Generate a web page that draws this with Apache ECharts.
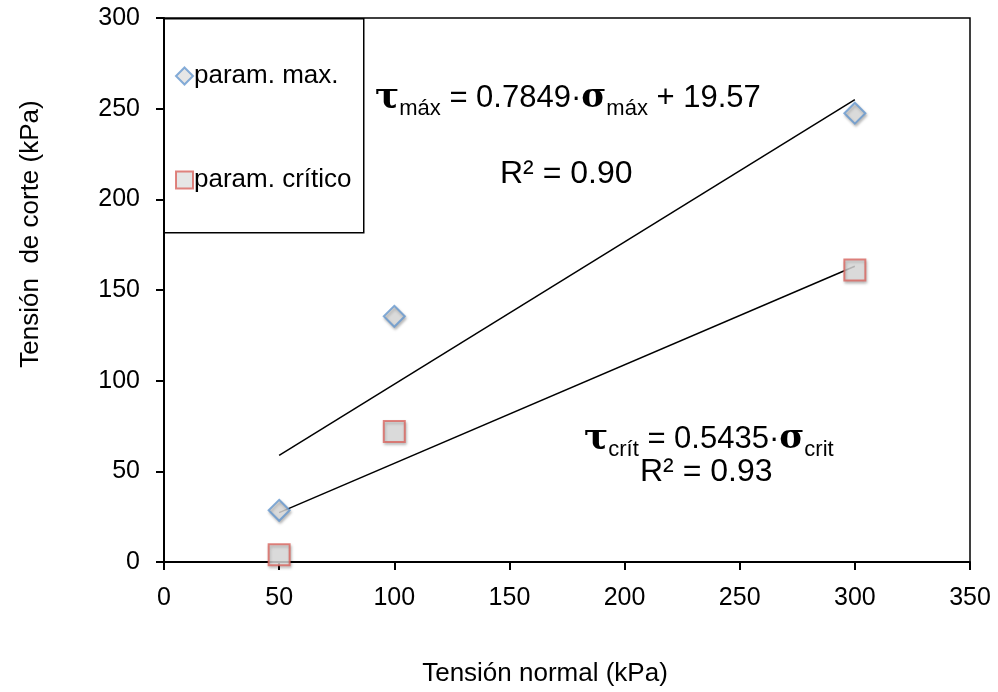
<!DOCTYPE html>
<html>
<head>
<meta charset="utf-8">
<script src="https://cdn.jsdelivr.net/npm/echarts@6/dist/echarts.min.js"></script>
<style>html,body{margin:0;padding:0;background:#fff}#c{width:998px;height:692px}</style>
</head>
<body>
<div id="c"></div>
<script>
// Data
var sigmaN = [50, 100, 300];
var tauMax = [28.5, 135.5, 247.5];
var tauCrit = [4, 72, 161];
var trendMaxX = [50, 300];
var trendMaxY = [58.8, 255.0];
var trendCritX = [50, 300];
var trendCritY = [27.2, 163.1];
var xTicks = [0, 50, 100, 150, 200, 250, 300, 350];
var yTicks = [0, 50, 100, 150, 200, 250, 300];

function zip(a, b) { return a.map(function (v, i) { return [v, b[i]]; }); }

var FONT = '"Liberation Sans", Arial, sans-serif';
var chart = echarts.init(document.getElementById('c'), null, {renderer: 'canvas'});

var eqRich = {
  tau: {fontFamily: '"DejaVu Serif", "Liberation Serif", serif', fontSize: 36, fontWeight: 'bold', color: '#000', verticalAlign: 'middle', lineHeight: 44},
  sig: {fontFamily: '"DejaVu Serif", "Liberation Serif", serif', fontSize: 34, fontWeight: 'bold', color: '#000', verticalAlign: 'middle', lineHeight: 44},
  t: {fontFamily: FONT, fontSize: 31, color: '#000', verticalAlign: 'middle', lineHeight: 44},
  sub: {fontFamily: FONT, fontSize: 22, color: '#000', verticalAlign: 'bottom', lineHeight: 44}
};

chart.setOption({
  animation: false,
  grid: {left: 164, right: 28, top: 18, bottom: 128, show: true, borderColor: '#000', borderWidth: 1.5, backgroundColor: 'transparent'},
  xAxis: {
    type: 'value', min: 0, max: 350, interval: 50,
    name: 'Tensión normal (kPa)', nameLocation: 'middle', nameGap: 99,
    nameTextStyle: {fontFamily: FONT, fontSize: 26, color: '#000', padding: [0, 44, 0, 0]},
    axisLine: {show: true, onZero: false, lineStyle: {color: '#000', width: 2}},
    axisTick: {show: true, inside: false, length: 8, lineStyle: {color: '#000', width: 2}},
    axisLabel: {fontFamily: FONT, fontSize: 25, color: '#000', margin: 24,
      formatter: function (v) { return xTicks.indexOf(v) >= 0 ? String(v) : ''; }},
    splitLine: {show: false}
  },
  yAxis: {
    type: 'value', min: 0, max: 300, interval: 50,
    name: 'Tensión  de corte (kPa)', nameLocation: 'middle', nameGap: 120, nameRotate: 90,
    nameTextStyle: {fontFamily: FONT, fontSize: 26, color: '#000', padding: [0, 0, 0, 112]},
    axisLine: {show: true, onZero: false, lineStyle: {color: '#000', width: 2}},
    axisTick: {show: true, inside: false, length: 8, lineStyle: {color: '#000', width: 2}},
    axisLabel: {fontFamily: FONT, fontSize: 25, color: '#000', margin: 24,
      formatter: function (v) { return yTicks.indexOf(v) >= 0 ? String(v) : ''; }},
    splitLine: {show: false}
  },
  legend: {
    orient: 'vertical', left: 170, top: 58, itemGap: 78, itemWidth: 17, itemHeight: 17,
    data: ['param. max.', 'param. crítico'],
    textStyle: {fontFamily: FONT, fontSize: 26, color: '#000', padding: [0, 0, 0, -4]}
  },
  graphic: [
    {type: 'rect', left: 163, top: 18, z: 1, shape: {width: 200, height: 214},
     style: {fill: 'transparent', stroke: '#000', lineWidth: 1.5}},
    {type: 'text', left: 375, top: 80, z: 10, style: {
      text: '{tau|τ}{sub|máx}{t| = 0.7849·}{sig|σ}{sub|máx}{t| + 19.57}', rich: eqRich}},
    {type: 'text', left: 500, top: 158, z: 10, style: {
      text: 'R² = 0.90', fontFamily: FONT, fontSize: 32, fill: '#000'}},
    {type: 'text', left: 584, top: 421, z: 10, style: {
      text: '{tau|τ}{sub|crít}{t| = 0.5435·}{sig|σ}{sub|crit}', rich: eqRich}},
    {type: 'text', left: 640, top: 456, z: 10, style: {
      text: 'R² = 0.93', fontFamily: FONT, fontSize: 32, fill: '#000'}}
  ],
  series: [
    {name: 'trend max', type: 'line', data: zip(trendMaxX, trendMaxY), symbol: 'none',
     lineStyle: {color: '#000', width: 1.5}, z: 3, silent: true},
    {name: 'trend crit', type: 'line', data: zip(trendCritX, trendCritY), symbol: 'none',
     lineStyle: {color: '#000', width: 1.5}, z: 3, silent: true},
    {name: 'param. max.', type: 'scatter', data: zip(sigmaN, tauMax), symbol: 'diamond', symbolSize: [21, 21],
     itemStyle: {color: '#e0e0e0', borderColor: '#6699d0', borderWidth: 2,
       shadowColor: 'rgba(0,0,0,0.3)', shadowBlur: 3, shadowOffsetX: 1, shadowOffsetY: 2}, z: 4},
    {name: 'param. crítico', type: 'scatter', data: zip(sigmaN, tauCrit), symbol: 'rect', symbolSize: [21, 21],
     itemStyle: {color: '#e0e0e0', borderColor: '#d9655f', borderWidth: 2,
       shadowColor: 'rgba(0,0,0,0.3)', shadowBlur: 3, shadowOffsetX: 1, shadowOffsetY: 2}, z: 4}
  ]
});
</script>
</body>
</html>
